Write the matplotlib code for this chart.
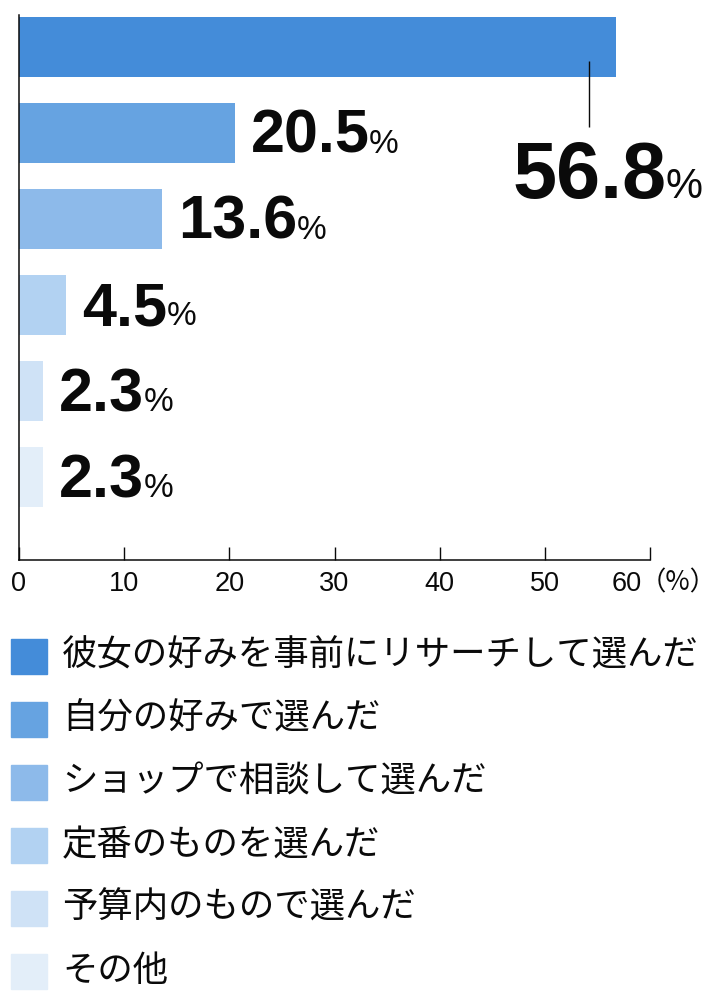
import matplotlib
matplotlib.use("Agg")
import matplotlib.pyplot as plt
from matplotlib.patches import Rectangle

categories = ["彼女の好みを事前にリサーチして選んだ", "自分の好みで選んだ", "ショップで相談して選んだ",
              "定番のものを選んだ", "予算内のもので選んだ", "その他"]
values = [56.8, 20.5, 13.6, 4.5, 2.3, 2.3]
labels = ["56.8", "20.5", "13.6", "4.5", "2.3", "2.3"]
colors = ["#448cd9", "#66a3e1", "#8dbaea", "#b2d2f2", "#cfe2f6", "#e3eef9"]
xticks = [0, 10, 20, 30, 40, 50, 60]

num_font = ["Liberation Sans", "DejaVu Sans"]
narrow_font = ["Liberation Sans Narrow", "Liberation Sans", "DejaVu Sans"]
jp_font = ["Noto Sans CJK JP", "DejaVu Sans"]
ink = "#0a0a0a"

fig = plt.figure(figsize=(7.2, 9.99), dpi=100)
W, H = 720, 999
ax = fig.add_axes([19 / W, (H - 560) / H, 631 / W, 545 / H])

ypos = list(range(len(values)))
ax.barh(ypos, values, height=0.7, color=colors)
ax.set_xlim(0, 60)
ax.set_ylim(5.965, -0.372)
ax.set_yticks([])
for s in ["top", "right"]:
    ax.spines[s].set_visible(False)
for s in ["left", "bottom"]:
    ax.spines[s].set_linewidth(1.1)
    ax.spines[s].set_color(ink)

ax.set_xticks(xticks)
ax.set_xticklabels([str(t) for t in xticks[:-1]] + [""])
ax.tick_params(axis="x", direction="in", length=9.5, width=1.0, color=ink, pad=8,
               labelsize=19.5, labelcolor=ink)
for lab in ax.get_xticklabels():
    lab.set_family(narrow_font)
ax.annotate("60", xy=(60, 0), xycoords=("data", "axes fraction"), xytext=(-8, -11),
            textcoords="offset pixels", ha="right", va="top", fontsize=19.5,
            family=narrow_font, color=ink)
ax.annotate("（%）", xy=(60, 0), xycoords=("data", "axes fraction"), xytext=(-10, -9),
            textcoords="offset pixels", ha="left", va="top", fontsize=19,
            family=["Noto Sans CJK JP"], color=ink)

renderer = fig.canvas.get_renderer()


def value_label(v, y, text, dx, dy, size, psize):
    t = ax.annotate(text, xy=(v, y), xytext=(dx, dy), textcoords="offset pixels",
                    ha="left", va="baseline", fontsize=size, fontweight="bold",
                    family=num_font, color=ink)
    w = t.get_window_extent(renderer).width
    ax.annotate("%", xy=(v, y), xytext=(dx + w - 1, dy), textcoords="offset pixels",
                ha="left", va="baseline", fontsize=psize, family=narrow_font,
                color=ink)


# biggest value sits below its bar with a leader line
value_label(values[0], ypos[0], labels[0], -104, -151, 57, 30)
ax.vlines(values[0] - 2.6, 0.16, 0.93, color=ink, linewidth=1.0)
for v, y, s in zip(values[1:], ypos[1:], labels[1:]):
    value_label(v, y, s, 16, -20, 44, 24)

# legend
for i, (c, name) in enumerate(zip(colors, categories)):
    yc = 656 + 63 * i
    fig.add_artist(Rectangle((11 / W, (H - yc - 17.5) / H), 36 / W, 35 / H,
                             transform=fig.transFigure, color=c))
    fig.text(62 / W, (H - yc) / H, name, ha="left", va="center", fontsize=25.5,
             family=jp_font, color=ink)

fig.savefig("out.png", dpi=100)
